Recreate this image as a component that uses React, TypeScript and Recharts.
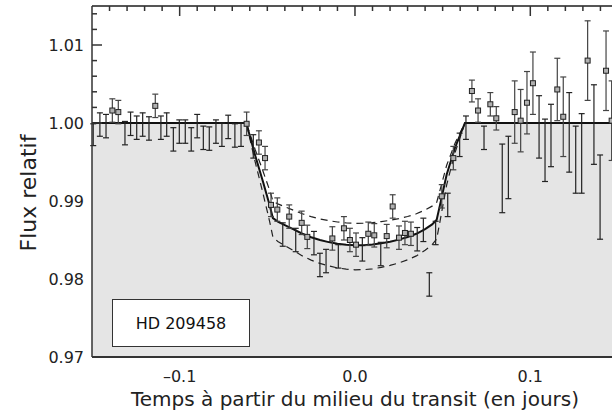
import React from 'react';
import { ComposedChart, Area, Line, Scatter, ErrorBar, XAxis, YAxis } from 'recharts';

// Transit model (solid) and the two dashed envelopes, sampled along time (days)
const modelTime = [-0.15, -0.062, -0.057, -0.0525, -0.0487, -0.0468, -0.044, -0.04, -0.035, -0.03, -0.025, -0.02, -0.015, -0.01, -0.005, 0, 0.005, 0.01, 0.015, 0.02, 0.025, 0.03, 0.035, 0.04, 0.044, 0.0466, 0.0485, 0.0523, 0.057, 0.0627, 0.15];
const modelFlux = [1, 1, 0.9959, 0.9925, 0.9895, 0.9878, 0.98735, 0.9869, 0.98635, 0.9858, 0.98535, 0.985, 0.98473, 0.98452, 0.98438, 0.98432, 0.98433, 0.98442, 0.98458, 0.98478, 0.98505, 0.98538, 0.9858, 0.9864, 0.987, 0.9876, 0.9895, 0.9934, 0.9968, 1, 1];
const upperFlux = [1, 1, 0.99664, 0.99385, 0.99139, 0.98999, 0.98963, 0.98926, 0.98881, 0.98836, 0.98799, 0.9877, 0.98748, 0.98731, 0.98719, 0.98714, 0.98715, 0.98722, 0.98736, 0.98752, 0.98774, 0.98801, 0.98836, 0.98885, 0.98934, 0.98983, 0.99139, 0.99459, 0.99738, 1, 1];
const lowerFlux = [1, 1, 0.99508, 0.991, 0.9874, 0.98536, 0.98482, 0.98428, 0.98362, 0.98296, 0.98242, 0.982, 0.98168, 0.98142, 0.98126, 0.98118, 0.9812, 0.9813, 0.9815, 0.98174, 0.98206, 0.98246, 0.98296, 0.98368, 0.9844, 0.98512, 0.9874, 0.99208, 0.99616, 1, 1];

// observations drawn with a square marker
const markedTime = [-0.1384, -0.135, -0.1139, -0.0618, -0.0548, -0.0513, -0.0479, -0.0443, -0.0375, -0.0304, -0.0272, -0.0129, -0.0063, -0.0029, 0.0006, 0.0076, 0.011, 0.0181, 0.0215, 0.0251, 0.0285, 0.0319, 0.0495, 0.0561, 0.0667, 0.0702, 0.0772, 0.0806, 0.0911, 0.0945, 0.0981, 0.1015, 0.1154, 0.1188, 0.1327, 0.1432, 0.1464];
const markedFlux = [1.0016, 1.0014, 1.0022, 0.9999, 0.9975, 0.9955, 0.9895, 0.9889, 0.988, 0.9872, 0.9854, 0.9852, 0.9865, 0.985, 0.9844, 0.9858, 0.9856, 0.9855, 0.9893, 0.9853, 0.9859, 0.9858, 0.9906, 0.9955, 1.0041, 1.0016, 1.0024, 1.0006, 1.0014, 1.0003, 1.0026, 1.0051, 1.0043, 1.0008, 1.008, 1.0067, 1.0003];
const markedErr = [0.0015, 0.0015, 0.0015, 0.0015, 0.0015, 0.0015, 0.0015, 0.0015, 0.0015, 0.0015, 0.0015, 0.0015, 0.0015, 0.0015, 0.0015, 0.0015, 0.0015, 0.0015, 0.0015, 0.0015, 0.0015, 0.0015, 0.0015, 0.0015, 0.0014, 0.0015, 0.0015, 0.0015, 0.004, 0.004, 0.004, 0.004, 0.004, 0.0051, 0.0051, 0.0051, 0.0051];

// observations drawn with the error bar only
const plainTime = [-0.1493, -0.1455, -0.142, -0.1312, -0.128, -0.1245, -0.1211, -0.1175, -0.1107, -0.1074, -0.1036, -0.1002, -0.0968, -0.0934, -0.09, -0.0865, -0.0831, -0.0793, -0.0759, -0.0723, -0.0685, -0.065, -0.058, -0.0412, -0.0338, -0.0234, -0.02, -0.0165, -0.0095, 0.0042, 0.0147, 0.0355, 0.039, 0.0424, 0.046, 0.0529, 0.0597, 0.0633, 0.0736, 0.084, 0.0875, 0.105, 0.1084, 0.1118, 0.1222, 0.1259, 0.1293, 0.1363, 0.1398];
const plainFlux = [0.9985, 0.9998, 0.9996, 0.9987, 0.9999, 0.9994, 0.9998, 0.9993, 0.9994, 0.9998, 0.9979, 0.9989, 0.9989, 0.9979, 0.9996, 0.9981, 0.998, 0.9989, 0.9985, 0.9995, 0.9984, 0.9985, 0.997, 0.9857, 0.985, 0.9846, 0.9818, 0.9823, 0.9829, 0.9838, 0.9832, 0.9851, 0.9863, 0.9793, 0.9859, 0.9895, 0.9972, 0.9994, 0.9981, 0.9929, 0.9943, 0.9995, 0.9965, 0.9984, 0.9988, 0.9953, 0.9961, 0.9998, 0.9905];
const plainErr = [0.0014, 0.0015, 0.0015, 0.0015, 0.0015, 0.0015, 0.0015, 0.0015, 0.0015, 0.0015, 0.0015, 0.0015, 0.0015, 0.0015, 0.0015, 0.0015, 0.0015, 0.0015, 0.0015, 0.0015, 0.0015, 0.0015, 0.0015, 0.0015, 0.0015, 0.0015, 0.0015, 0.0015, 0.0015, 0.0015, 0.0015, 0.0015, 0.0015, 0.0015, 0.0015, 0.0015, 0.0015, 0.0015, 0.0015, 0.0044, 0.004, 0.004, 0.004, 0.004, 0.0051, 0.0043, 0.0051, 0.0051, 0.0054];

// axis ticks
const bottomTicks = [-0.1, 0, 0.1];
const bottomTickLabels = ['\u20130.1', '0.0', '0.1'];
const topTicks = [-0.14, -0.13, -0.12, -0.11, -0.1, -0.09, -0.08, -0.07, -0.06, -0.05, -0.04, -0.03, -0.02, -0.01, 0, 0.01, 0.02, 0.03, 0.04, 0.05, 0.06, 0.07, 0.08, 0.09, 0.1, 0.11, 0.12, 0.13, 0.14];
const leftTickLabels = [0.97, 0.98, 0.99, 1.0, 1.01];
// left tick marks are only seen above the grey fill
const leftTickMarks = [1.0, 1.002, 1.004, 1.006, 1.008, 1.01, 1.012, 1.014];
const leftTicks = [0.97, 0.98, 0.99, 1.0, 1.002, 1.004, 1.006, 1.008, 1.01, 1.012, 1.014];

const modelData = modelTime.map((t, i) => ({ t, model: modelFlux[i], hi: upperFlux[i], lo: lowerFlux[i] }));
const markedData = markedTime.map((t, i) => ({ t, f: markedFlux[i], err: markedErr[i] }));
const plainData = plainTime.map((t, i) => ({ t, f: plainFlux[i], err: plainErr[i] }));

const FONT = 'DejaVu Sans';
const AXIS = '#333';
const X_DOMAIN = [-0.15, 0.1466];
const Y_DOMAIN = [0.97, 1.015];

const near = (list: number[], v: number) => list.some((w) => Math.abs(w - v) < 1e-9);

// left ticks point into the plot; only the 0.01 steps carry a label
const LeftTick = (props: any) => {
  const { x, y, payload } = props;
  const v = payload.value;
  const labelled = near(leftTickLabels, v);
  return (
    <g>
      {near(leftTickMarks, v) && (
        <line x1={x} y1={y} x2={x + (labelled ? 10 : 5)} y2={y} stroke={AXIS} strokeWidth={1.5} />
      )}
      {labelled && (
        <text x={x - 8} y={y} dy={5.5} textAnchor="end" fontFamily={FONT} fontSize={16} fill="#222">
          {v.toFixed(2)}
        </text>
      )}
    </g>
  );
};

const TopTick = (props: any) => {
  const { x, y, payload } = props;
  const major = near(bottomTicks, payload.value);
  return <line x1={x} y1={y} x2={x} y2={y + (major ? 10 : 5)} stroke={AXIS} strokeWidth={1.5} />;
};

const BottomTick = (props: any) => {
  const { x, y, payload } = props;
  const idx = bottomTicks.findIndex((v) => Math.abs(v - payload.value) < 1e-9);
  return (
    <text x={x} y={y + 25} textAnchor="middle" fontFamily={FONT} fontSize={16} fill="#222">
      {bottomTickLabels[idx]}
    </text>
  );
};

const Square = (props: any) => (
  <rect x={props.cx - 2.5} y={props.cy - 2.5} width={5} height={5} fill="#b0b0b0" stroke="#222" strokeWidth={1} />
);
const NoMarker = () => <g />;

const xLabel = (props: any) => {
  const vb = props.viewBox;
  return (
    <text x={vb.x + vb.width / 2 + 3} y={406} textAnchor="middle" fontFamily={FONT} fontSize={20} fill="#222">
      Temps à partir du milieu du transit (en jours)
    </text>
  );
};

const yLabel = () => (
  <text x={36} y={193} transform="rotate(-90 36 193)" textAnchor="middle" fontFamily={FONT} fontSize={22} fill="#222">
    Flux relatif
  </text>
);

export default function App() {
  return (
    <div style={{ position: 'absolute', left: 0, top: 0, width: 612, height: 416, background: '#fff' }}>
      <ComposedChart width={612} height={416} margin={{ top: 0, right: 0, left: 0, bottom: 1 }}>
        <XAxis
          dataKey="t"
          type="number"
          domain={X_DOMAIN}
          allowDataOverflow
          ticks={bottomTicks}
          interval={0}
          tickSize={0}
          tickMargin={0}
          tickLine={false}
          tick={<BottomTick />}
          height={58}
          axisLine={{ stroke: AXIS, strokeWidth: 2 }}
          label={xLabel}
        />
        <XAxis
          xAxisId="top"
          orientation="top"
          dataKey="t"
          type="number"
          domain={X_DOMAIN}
          allowDataOverflow
          ticks={topTicks}
          interval={0}
          tickSize={0}
          tickMargin={0}
          tickLine={false}
          tick={<TopTick />}
          height={6}
          axisLine={{ stroke: '#555', strokeWidth: 2 }}
        />
        <YAxis
          type="number"
          domain={Y_DOMAIN}
          allowDataOverflow
          ticks={leftTicks}
          interval={0}
          tickSize={0}
          tickMargin={0}
          tickLine={false}
          tick={<LeftTick />}
          width={92}
          axisLine={{ stroke: AXIS, strokeWidth: 1.5 }}
          label={yLabel}
        />
        <Area
          data={modelData}
          dataKey="model"
          type="linear"
          fill="#e5e5e5"
          fillOpacity={1}
          stroke="none"
          baseValue="dataMin"
          isAnimationActive={false}
        />
        <Line data={modelData} dataKey="hi" type="linear" stroke="#222" strokeWidth={1.2} strokeDasharray="7 5" dot={false} isAnimationActive={false} />
        <Line data={modelData} dataKey="lo" type="linear" stroke="#222" strokeWidth={1.2} strokeDasharray="7 5" dot={false} isAnimationActive={false} />
        <Line data={modelData} dataKey="model" type="linear" stroke="#111" strokeWidth={2} dot={false} isAnimationActive={false} />
        <Scatter data={plainData} dataKey="f" shape={<NoMarker />} isAnimationActive={false}>
          <ErrorBar dataKey="err" direction="y" width={3} stroke="#222" strokeWidth={1.2} />
        </Scatter>
        <Scatter data={markedData} dataKey="f" shape={<Square />} isAnimationActive={false}>
          <ErrorBar dataKey="err" direction="y" width={3} stroke="#444" strokeWidth={1.2} />
        </Scatter>
      </ComposedChart>
      <div
        style={{
          position: 'absolute',
          left: 112,
          top: 299,
          width: 136,
          height: 46,
          border: '1px solid #333',
          background: '#fff',
          display: 'flex',
          alignItems: 'center',
          justifyContent: 'center',
          fontFamily: FONT,
          fontSize: 16,
          color: '#111',
        }}
      >
        HD 209458
      </div>
    </div>
  );
}
